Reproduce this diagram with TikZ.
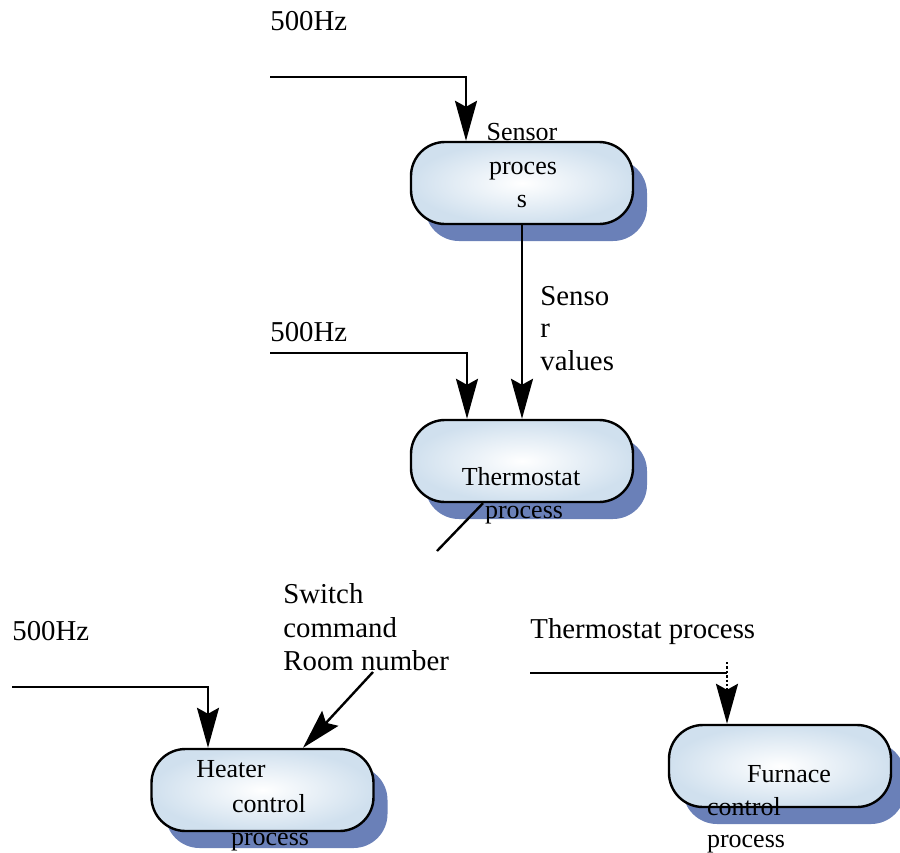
\documentclass[tikz,border=0pt]{standalone}
\usepackage{fontspec}
\setmainfont{Liberation Serif}
\usetikzlibrary{arrows.meta,shadows}
\definecolor{shadowblue}{RGB}{106,128,184}
\definecolor{pillblue}{RGB}{208,224,238}
\begin{document}
\begin{tikzpicture}[x=0.5pt,y=-0.5pt,
  pill/.style={draw=black, line width=1.2pt, rounded corners=17pt,
    minimum width=111pt, minimum height=41pt, inner sep=0pt,
    inner color=white, outer color=pillblue,
    general shadow={fill=shadowblue, shadow xshift=7pt, shadow yshift=-8.5pt}},
  ntext/.style={inner sep=0pt, anchor=base, font=\fontsize{13}{16}\selectfont},
  ltext/.style={inner sep=0pt, anchor=base west, font=\fontsize{14.4}{17}\selectfont},
  flow/.style={line width=1.2pt, -{Stealth[length=20pt,width=11pt,inset=3pt]}},
  plain/.style={line width=1.2pt}]
\useasboundingbox (0,0) rectangle (900,852);

% process nodes
\node[pill] (sensor) at (522,183) {};
\node[pill] (thermo) at (522,461) {};
\node[pill] (heater) at (262.5,790) {};
\node[pill] (furnace) at (780,766) {};

% node texts
\node[ntext] (s1) at (522,140) {Sensor};
\node[ntext] (s2) at (523,174) {proces};
\node[ntext] (s3) at (522,207) {s};
\node[ntext] (t1) at (521,485) {Thermostat};
\node[ntext] (t2) at (524,518) {process};
\node[ntext] (h1) at (231,777) {Heater};
\node[ntext] (h2) at (269,812) {control};
\node[ntext] (h3) at (270,845) {process};
\node[ntext] (f1) at (789,782) {Furnace};
\node[ntext] (f2) at (744,815) {control};
\node[ntext] (f3) at (746,847) {process};

% labels
\node[ltext] (hz1) at (270,30) {500Hz};
\node[ltext] (hz2) at (270,341) {500Hz};
\node[ltext] (hz3) at (12,640) {500Hz};
\node[ltext] (v1) at (540,305) {Senso};
\node[ltext] (v2) at (540,337) {r};
\node[ltext] (v3) at (540,370) {values};
\node[ltext] (w1) at (283,603) {Switch};
\node[ltext] (w2) at (283,637) {command};
\node[ltext] (w3) at (283,670) {Room number};
\node[ltext] (tp) at (530,638) {Thermostat process};

% connector ends
\coordinate (in1) at (270,77);
\coordinate (in2) at (270,353);
\coordinate (in3) at (12,687);
\coordinate (sw) at (373,672);
\coordinate (tout) at (437,551);
\coordinate (fin) at (530,673);
\coordinate (fcorner) at (727,673);
\coordinate (fdot) at (727,662);

% connectors
\draw[flow] (in1) -| ([xshift=-28pt]sensor.north);
\draw[flow] (sensor.south) -- (thermo.north);
\draw[flow] (in2) -| ([xshift=-27.5pt]thermo.north);
\draw[plain] ([xshift=-19.5pt]thermo.south) -- (tout);
\draw[flow] (in3) -| ([xshift=-27.25pt]heater.north);
\draw[flow] (sw) -- ([xshift=20.25pt]heater.north);
\draw[plain] (fin) -- (fcorner);
\draw[flow, densely dotted] (fdot) -- ([xshift=-26.5pt]furnace.north);
\end{tikzpicture}
\end{document}
